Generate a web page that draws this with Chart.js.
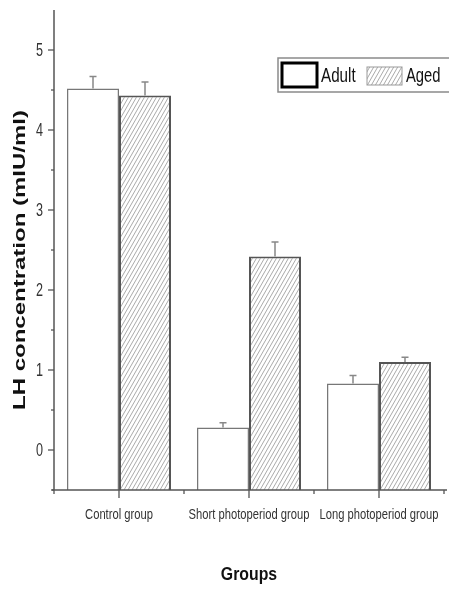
<!DOCTYPE html>
<html>
<head>
<meta charset="utf-8">
<script src="https://cdn.jsdelivr.net/npm/chart.js@4.4.0/dist/chart.umd.min.js"></script>
<style>
html,body{margin:0;padding:0;background:#fff;}
#wrap{width:449px;height:590px;position:relative;}
</style>
</head>
<body>
<div id="wrap"><canvas id="c"></canvas></div>
<script>
const categories = ['Control group', 'Short photoperiod group', 'Long photoperiod group'];
const seriesNames = ['Adult', 'Aged'];
const adultValues = [4.52, 0.28, 0.83];
const agedValues = [4.43, 2.42, 1.10];
const adultErrors = [0.15, 0.06, 0.10];
const agedErrors = [0.17, 0.18, 0.06];
const yMin = -0.5, yMax = 5.5, yStep = 0.5;
const yTitle = 'LH concentration (mIU/ml)';
const xTitle = 'Groups';

const FONT = '"Liberation Sans", Arial, sans-serif';

function makeHatch() {
  const t = document.createElement('canvas');
  t.width = 4; t.height = 7;
  const g = t.getContext('2d');
  g.fillStyle = '#fff';
  g.fillRect(0, 0, 4, 7);
  g.strokeStyle = '#a0a0a0';
  g.lineWidth = 0.9;
  for (const dx of [-4, 0, 4]) {
    g.beginPath();
    g.moveTo(dx, 7);
    g.lineTo(dx + 4, 0);
    g.stroke();
  }
  return g.createPattern(t, 'repeat');
}
const hatch = makeHatch();

const axisColor = '#555';

function condensedText(ctx, text, x, y, font, sx, align) {
  ctx.save();
  ctx.translate(x, y);
  ctx.scale(sx, 1);
  ctx.font = font;
  ctx.textAlign = align;
  ctx.textBaseline = 'alphabetic';
  ctx.fillText(text, 0, 0);
  ctx.restore();
}

const decorPlugin = {
  id: 'decor',
  afterDatasetsDraw(chart) {
    const ctx = chart.ctx;
    const xs = chart.scales.x, ys = chart.scales.y;
    const errs = [adultErrors, agedErrors];
    const vals = [adultValues, agedValues];
    ctx.save();
    // error bars
    ctx.strokeStyle = '#888';
    ctx.lineWidth = 1.5;
    chart.data.datasets.forEach((ds, di) => {
      const meta = chart.getDatasetMeta(di);
      meta.data.forEach((el, i) => {
        const top = ys.getPixelForValue(vals[di][i] + errs[di][i]);
        ctx.beginPath();
        ctx.moveTo(el.x, el.y);
        ctx.lineTo(el.x, top);
        ctx.moveTo(el.x - 3.5, top);
        ctx.lineTo(el.x + 3.5, top);
        ctx.stroke();
      });
    });
    const ca = chart.chartArea;
    // axes
    ctx.strokeStyle = axisColor;
    ctx.lineWidth = 1.5;
    ctx.beginPath();
    ctx.moveTo(ca.left, ca.top);
    ctx.lineTo(ca.left, ca.bottom);
    ctx.moveTo(ca.left - 2, ca.bottom);
    ctx.lineTo(ca.right + 3, ca.bottom);
    ctx.stroke();
    // y ticks + labels
    ctx.lineWidth = 1.3;
    ctx.fillStyle = '#333';
    ys.ticks.forEach(t => {
      const py = ys.getPixelForValue(t.value);
      const major = Math.abs(t.value - Math.round(t.value)) < 1e-6;
      if (py < ca.top + 1) return;
      ctx.beginPath();
      ctx.moveTo(ca.left, py);
      ctx.lineTo(ca.left - (major ? 6 : 3), py);
      ctx.stroke();
      if (major) {
        condensedText(ctx, String(Math.round(t.value)), ca.left - 11, py + 6.4, '18px ' + FONT, 0.7, 'right');
      }
    });
    // x ticks + labels
    const n = categories.length;
    const half = (xs.getPixelForValue(1) - xs.getPixelForValue(0)) / 2;
    for (let i = 0; i < n; i++) {
      const cx = xs.getPixelForValue(i);
      ctx.beginPath();
      ctx.moveTo(cx, ca.bottom);
      ctx.lineTo(cx, ca.bottom + 8);
      ctx.moveTo(cx - half, ca.bottom);
      ctx.lineTo(cx - half, ca.bottom + 4);
      if (i === n - 1) {
        ctx.moveTo(cx + half, ca.bottom);
        ctx.lineTo(cx + half, ca.bottom + 4);
      }
      ctx.stroke();
      ctx.fillStyle = '#333';
      condensedText(ctx, xs.getLabelForValue(i), cx, ca.bottom + 29, '14px ' + FONT, 0.8, 'center');
    }
    // y title (condensed bold)
    ctx.fillStyle = '#111';
    ctx.save();
    ctx.translate(20, 260);
    ctx.rotate(-Math.PI / 2);
    ctx.scale(1, 0.72);
    ctx.font = 'bold 24px ' + FONT;
    ctx.textAlign = 'center';
    ctx.textBaseline = 'middle';
    ctx.fillText(yTitle, 0, 0);
    ctx.restore();
    // x title
    ctx.fillStyle = '#111';
    condensedText(ctx, xTitle, (xs.getPixelForValue(0) + xs.getPixelForValue(n - 1)) / 2, 580, 'bold 18px ' + FONT, 0.88, 'center');
    // legend
    const lx = 278, ly = 58, lh = 34;
    ctx.fillStyle = '#fff';
    ctx.fillRect(lx, ly, 180, lh);
    ctx.strokeStyle = '#8a8a8a';
    ctx.lineWidth = 1.5;
    ctx.strokeRect(lx, ly, 180, lh);
    // Adult swatch
    ctx.strokeStyle = '#000';
    ctx.lineWidth = 3;
    ctx.fillStyle = '#fff';
    ctx.fillRect(282, 63, 35, 24);
    ctx.strokeRect(282, 63, 35, 24);
    ctx.fillStyle = '#111';
    condensedText(ctx, chart.data.datasets[0].label, 321, 82, '20px ' + FONT, 0.76, 'left');
    // Aged swatch
    ctx.fillStyle = hatch;
    ctx.fillRect(367, 67, 35, 18);
    ctx.strokeStyle = '#999';
    ctx.lineWidth = 1;
    ctx.strokeRect(367, 67, 35, 18);
    ctx.fillStyle = '#111';
    condensedText(ctx, chart.data.datasets[1].label, 406, 82, '20px ' + FONT, 0.74, 'left');
    ctx.restore();
  }
};

new Chart(document.getElementById('c'), {
  type: 'bar',
  data: {
    labels: categories,
    datasets: [
      {
        label: seriesNames[0],
        data: adultValues,
        base: yMin,
        backgroundColor: '#ffffff',
        borderColor: '#777',
        borderWidth: 1.5,
        categoryPercentage: 0.8,
        barPercentage: 1.0
      },
      {
        label: seriesNames[1],
        data: agedValues,
        base: yMin,
        backgroundColor: hatch,
        borderColor: '#555',
        borderWidth: 2,
        categoryPercentage: 0.8,
        barPercentage: 1.0
      }
    ]
  },
  options: {
    responsive: true,
    maintainAspectRatio: false,
    animation: false,
    layout: { padding: { top: 10, right: 5, left: 0, bottom: 0 } },
    plugins: {
      legend: { display: false },
      tooltip: { enabled: false }
    },
    scales: {
      x: {
        grid: { display: false },
        border: { display: false },
        ticks: { display: false },
        afterFit(scale) { scale.height = 100; scale.paddingLeft = 0; scale.paddingRight = 0; }
      },
      y: {
        min: yMin,
        max: yMax,
        grid: { display: false },
        border: { display: false },
        ticks: { display: false, stepSize: yStep, autoSkip: false },
        afterFit(scale) { scale.width = 54; scale.paddingTop = 0; scale.paddingBottom = 0; }
      }
    }
  },
  plugins: [decorPlugin]
});
</script>
</body>
</html>
